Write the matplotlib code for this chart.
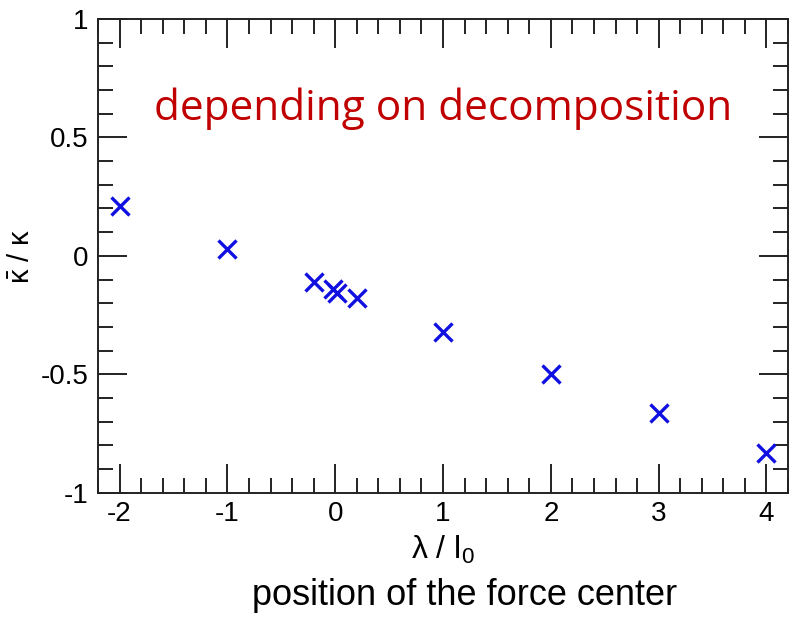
import numpy as np
import matplotlib.pyplot as plt
from matplotlib.ticker import MultipleLocator

# force-center position (in units of l0) and the resulting kappa ratio
lam = [-2, -1, -0.2, -0.02, 0.02, 0.2, 1, 2, 3, 4]
kappa_ratio = [0.21, 0.03, -0.11, -0.14, -0.155, -0.178, -0.32, -0.50, -0.663, -0.832]

x_ticks = [-2, -1, 0, 1, 2, 3, 4]
y_ticks = [-1, -0.5, 0, 0.5, 1]
y_ticklabels = ['-1', '-0.5', '0', '0.5', '1']

plt.rcParams['font.family'] = ['Liberation Sans', 'DejaVu Sans']
plt.rcParams['mathtext.fontset'] = 'custom'
plt.rcParams['mathtext.rm'] = 'Liberation Sans'
plt.rcParams['mathtext.it'] = 'Liberation Sans'

fig = plt.figure(figsize=(7.98, 6.2), dpi=100)
ax = fig.add_axes([0.1228, 0.2053, 0.8647, 0.7641])

ax.plot(lam, kappa_ratio, linestyle='none', marker='x', markersize=13,
        markeredgewidth=2.4, color='#1010e0')

ax.set_xlim(-2.2, 4.2)
ax.set_ylim(-1, 1)
ax.xaxis.set_minor_locator(MultipleLocator(0.2))
ax.yaxis.set_minor_locator(MultipleLocator(0.1))
ax.set_xticks(x_ticks)
ax.set_xticklabels([str(v) for v in x_ticks])
ax.set_yticks(y_ticks)
ax.set_yticklabels(y_ticklabels)

ax.tick_params(which='both', direction='in', top=True, right=True,
               width=1.4, color='#222222', labelsize=20)
ax.tick_params(which='major', length=21)
ax.tick_params(which='minor', length=10.5)
ax.tick_params(axis='y', pad=7)
ax.tick_params(axis='x', pad=6)
for s in ax.spines.values():
    s.set_linewidth(1.4)
    s.set_color('#222222')

ax.set_ylabel('$\\bar{\\mathrm{\u03ba}}$ / \u03ba', fontsize=21, labelpad=4)
ax.set_xlabel('\u03bb / l$_0$', fontsize=23, labelpad=5)

ax.text(0.5, 0.81, 'depending on decomposition', transform=ax.transAxes,
        ha='center', va='center', fontsize=30.5, color='#c00000',
        family=['Open Sans', 'DejaVu Sans'])

fig.text(0.582, 0.04, 'position of the force center', ha='center',
         va='center', fontsize=26, color='black')

fig.savefig('out.png', dpi=100)
